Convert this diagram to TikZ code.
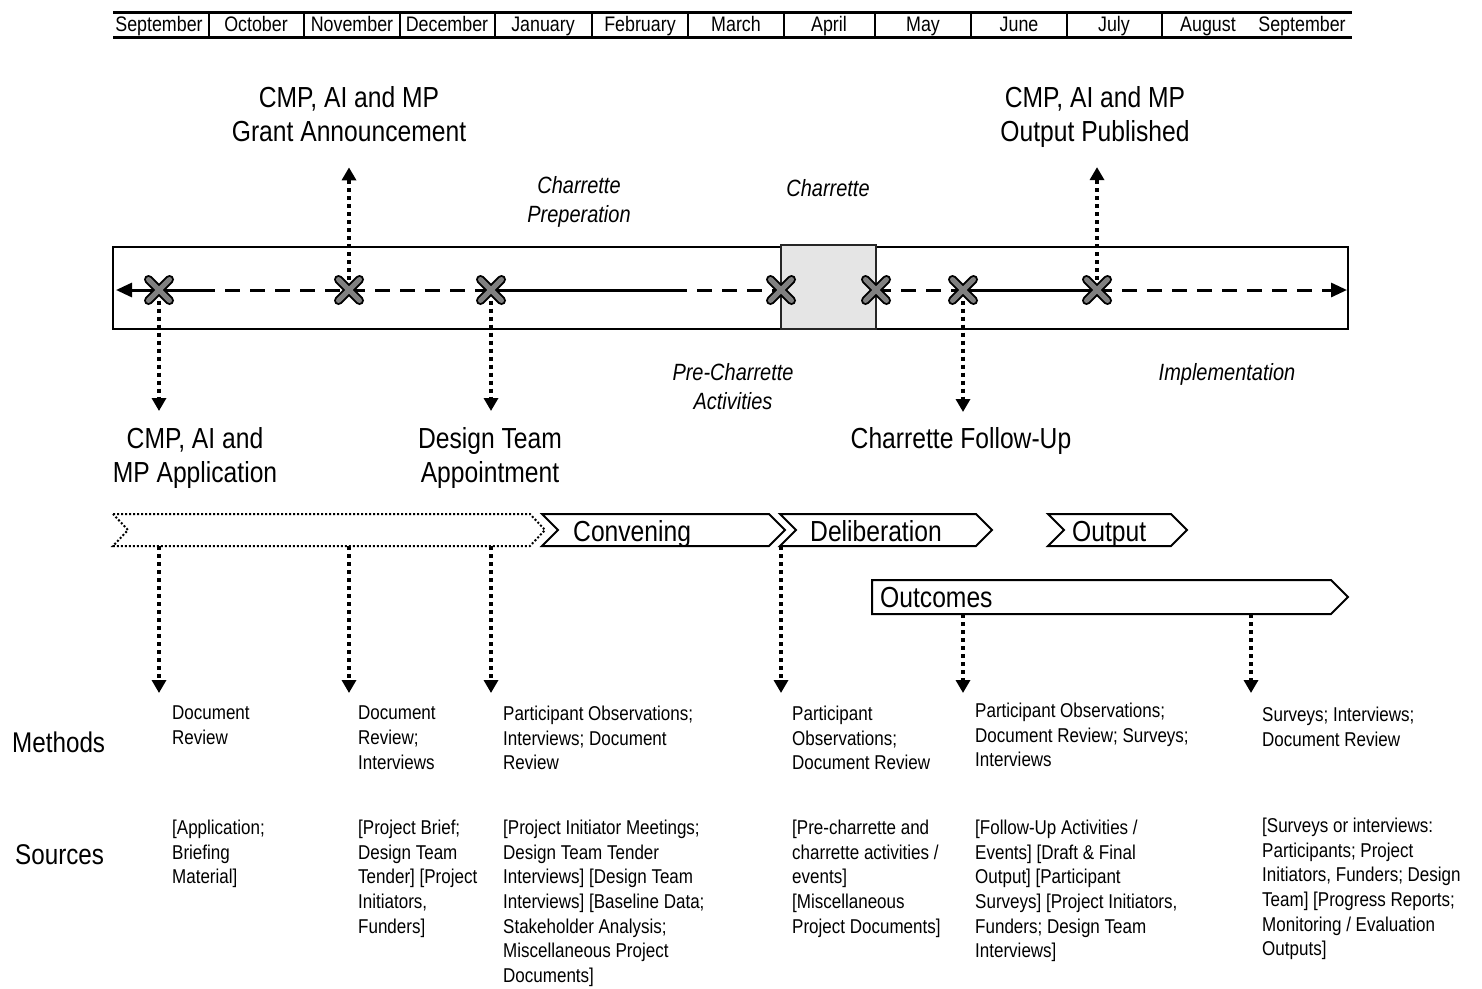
\documentclass[tikz,border=0pt]{standalone}
\usepackage{fontspec}
\setmainfont{Liberation Sans}[FakeStretch=0.85]
\usetikzlibrary{arrows.meta,positioning,shapes.misc}

\begin{document}
\begin{tikzpicture}[
  x=1pt, y=-1pt,
  month/.style={font=\fontsize{21}{24}\selectfont, inner sep=0pt, anchor=base},
  head/.style={font=\fontsize{29}{34}\selectfont, align=center, anchor=north},
  phase/.style={font=\fontsize{23.5}{29}\selectfont\itshape, align=center, anchor=north},
  stage/.style={font=\fontsize{29}{34}\selectfont, anchor=base west, inner sep=0pt},
  rowlab/.style={font=\fontsize{28.5}{32}\selectfont, anchor=west, inner sep=0pt},
  info/.style={font=\fontsize{20}{24.6}\selectfont, align=left, anchor=north west, inner sep=0pt},
  xmark/.style={cross out, draw=black, line width=9pt, line cap=round, minimum size=12pt, inner sep=0pt,
    postaction={draw=black!50, line width=5pt}},
  solidline/.style={line width=3pt},
  dashline/.style={line width=3pt, dash pattern=on 15pt off 10pt},
  darr/.style={line width=4pt, dash pattern=on 4pt off 4pt, -{Triangle[length=13pt,width=14pt]}},
  chev/.style={draw, line width=2pt, line join=miter},
  dotchev/.style={chev, dash pattern=on 2pt off 2pt}
]
\useasboundingbox (0,0) rectangle (1482,988);

% month bar
\draw[line width=3pt] (113,12) -- (1352,12);
\draw[line width=3pt] (113,37) -- (1352,37);
\foreach \x in {209,304,400,495,592,688,784,875,971,1067,1162}
  \draw[line width=2.5pt] (\x,12) -- (\x,37);
\foreach \m/\xc [count=\i] in {September/159,October/256,November/352,December/447,January/543,February/640,March/736,April/829,May/923,June/1019,July/1114,August/1208,September/1302}
  \node[month] (m\i) at (\xc,31.5) {\m};

% headings
\node[head] (grant) at (349,83) {CMP, AI and MP\\Grant Announcement};
\node[head] (publ) at (1095,83) {CMP, AI and MP\\Output Published};
\node[head] (appl) at (195,424) {CMP, AI and\\MP Application};
\node[head] (appt) at (490,424) {Design Team\\Appointment};
\node[head] (follow) at (961,424) {Charrette Follow-Up};

\node[phase] (prep) at (579,173) {Charrette\\Preperation};
\node[phase] (charr) at (828,176) {Charrette};
\node[phase] (prech) at (733,360) {Pre-Charrette\\Activities};
\node[phase] (impl) at (1227,360) {Implementation};

% timeline
\node[draw, line width=2.5pt, minimum width=1235pt, minimum height=82pt, inner sep=0pt] (tbox) at (730.5,288) {};
\node[draw=black!85, fill=black!10, line width=1.5pt, minimum width=95pt, minimum height=84pt, inner sep=0pt] (chbox) at (828.5,287) {};

\foreach \n/\x in {1/159,2/349,3/491,4/781,5/876,6/963,7/1097}
  \coordinate (p\n) at (\x,290);
\coordinate (tlL) at (116,290);
\coordinate (tlR) at (1347,290);
\coordinate (s1) at (200,290);
\coordinate (s2) at (672,290);

\draw[solidline, {Triangle[length=16pt,width=14pt]}-] (tlL) -- (s1);
\draw[dashline] (s1) -- (p3);
\draw[solidline] (p3) -- (s2);
\draw[dashline] (s2) -- (p4);
\draw[dashline] (p5) -- (p6);
\draw[solidline] (p6) -- (p7);
\draw[dashline, -{Triangle[length=16pt,width=14pt]}] (p7) -- (tlR);

\foreach \n in {1,...,7}
  \node[xmark] (c\n) at (p\n) {};

\draw[darr, shorten >=22pt] (c2.north) -- (grant.south);
\draw[darr, shorten >=16pt] (c7.north) -- (c7 |- publ.south);
\draw[darr, shorten >=13pt] (c1.south) -- (c1 |- appl.north);
\draw[darr, shorten >=13pt] (c3.south) -- (c3 |- appt.north);
\draw[darr, shorten >=12pt] (c6.south) -- (c6 |- follow.north);

% stages
\draw[dotchev] (113,514) -- (530,514) -- (545,530) -- (530,546) -- (113,546) -- (128,530) -- cycle;
\draw[chev] (542,514) -- (769,514) -- (785,530) -- (769,546) -- (542,546) -- (558,530) -- cycle;
\draw[chev] (780,514) -- (976,514) -- (992,530) -- (976,546) -- (780,546) -- (796,530) -- cycle;
\draw[chev] (1048,514) -- (1171,514) -- (1187,530) -- (1171,546) -- (1048,546) -- (1064,530) -- cycle;
\draw[chev] (872,580) -- (1331,580) -- (1348,597) -- (1331,614) -- (872,614) -- cycle;

\node[stage] (conv) at (573,541) {Convening};
\node[stage] (delib) at (810,541) {Deliberation};
\node[stage] (outp) at (1072,541) {Output};
\node[stage] (outc) at (880,607) {Outcomes};

% methods and sources
\node[rowlab] (methods) at (12,742) {Methods};
\node[rowlab] (sources) at (15,855) {Sources};

\node[info] (meth1) at (172,706) {Document\\Review};
\node[info] (meth2) at (358,706) {Document\\Review;\\Interviews};
\node[info] (meth3) at (503,706) {Participant Observations;\\Interviews; Document\\Review};
\node[info] (meth4) at (792,706) {Participant\\Observations;\\Document Review};
\node[info] (meth5) at (975,703) {Participant Observations;\\Document Review; Surveys;\\Interviews};
\node[info] (meth6) at (1262,707) {Surveys; Interviews;\\Document Review};

\node[info] (src1) at (172,820) {[Application;\\Briefing\\Material]};
\node[info] (src2) at (358,820) {[Project Brief;\\Design Team\\Tender] [Project\\Initiators,\\Funders]};
\node[info] (src3) at (503,820) {[Project Initiator Meetings;\\Design Team Tender\\Interviews] [Design Team\\Interviews] [Baseline Data;\\Stakeholder Analysis;\\Miscellaneous Project\\Documents]};
\node[info] (src4) at (792,820) {[Pre-charrette and\\charrette activities /\\events]\\{[Miscellaneous}\\Project Documents]};
\node[info] (src5) at (975,820) {[Follow-Up Activities /\\Events] [Draft \& Final\\Output] [Participant\\Surveys] [Project Initiators,\\Funders; Design Team\\Interviews]};
\node[info] (src6) at (1262,818) {[Surveys or interviews:\\Participants; Project\\Initiators, Funders; Design\\Team] [Progress Reports;\\Monitoring / Evaluation\\Outputs]};

\coordinate (cb) at (0,546);
\coordinate (ob) at (0,614);
\coordinate (t6) at (1251,614);
\draw[darr, shorten >=13pt] (c1 |- cb) -- (c1 |- meth1.north);
\draw[darr, shorten >=13pt] (c2 |- cb) -- (c2 |- meth2.north);
\draw[darr, shorten >=13pt] (c3 |- cb) -- (c3 |- meth3.north);
\draw[darr, shorten >=13pt] (c4 |- cb) -- (c4 |- meth4.north);
\draw[darr, shorten >=10pt] (c6 |- ob) -- (c6 |- meth5.north);
\draw[darr, shorten >=14pt] (t6) -- (t6 |- meth6.north);
\end{tikzpicture}
\end{document}
